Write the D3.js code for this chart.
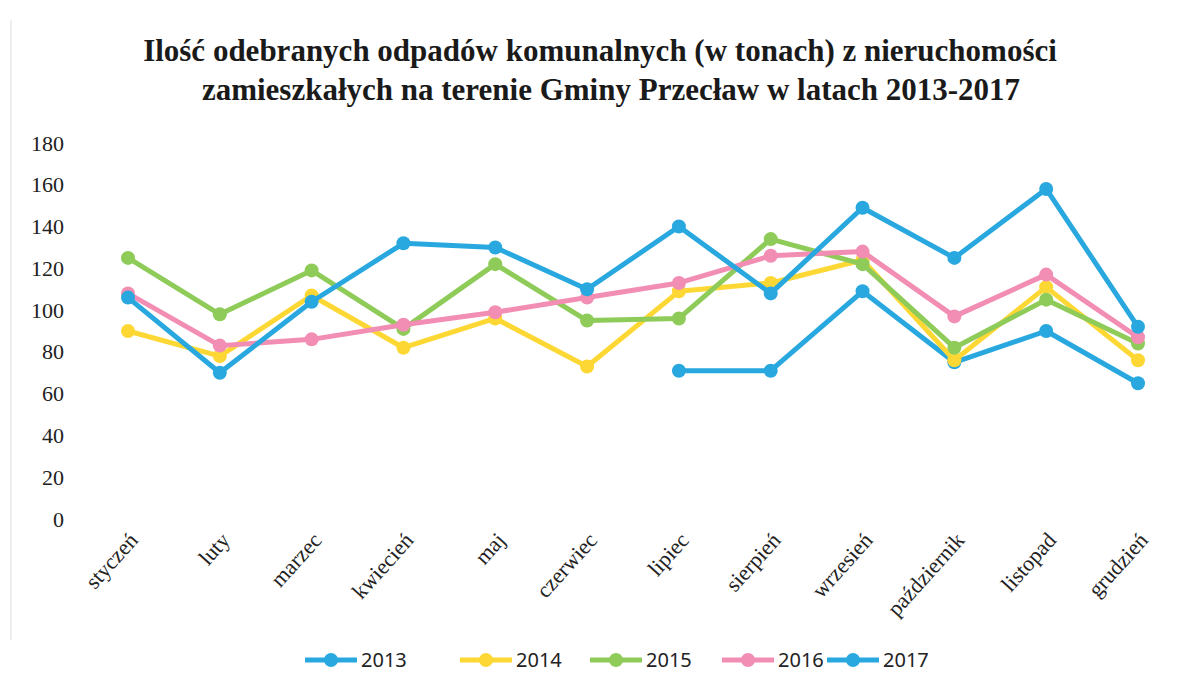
<!DOCTYPE html>
<html>
<head>
<meta charset="utf-8">
<script src="https://cdn.jsdelivr.net/npm/d3@7"></script>
<style>
  body { margin: 0; background: #fff; }
  svg { display: block; }
</style>
</head>
<body>
<svg id="chart" width="1199" height="675"></svg>
<script>
var months = ["styczeń", "luty", "marzec", "kwiecień", "maj", "czerwiec", "lipiec",
              "sierpień", "wrzesień", "październik", "listopad", "grudzień"];
var yTicks = [0, 20, 40, 60, 80, 100, 120, 140, 160, 180];

// null = brak danych
var v2013 = [null, null, null, null, null, null, 71, 71, 109, 75, 90, 65];
var v2014 = [90, 78, 107, 82, 96, 73, 109, 113, 124, 76, 111, 76];
var v2015 = [125, 98, 119, 91, 122, 95, 96, 134, 122, 82, 105, 84];
var v2016 = [108, 83, 86, 93, 99, 106, 113, 126, 128, 97, 117, 87];
var v2017 = [106, 70, 104, 132, 130, 110, 140, 108, 149, 125, 158, 92];

var seriesNames = ["2013", "2014", "2015", "2016", "2017"];
var seriesColors = ["#29a8df", "#fdd835", "#8ecb58", "#f28db4", "#29a8df"];
var seriesValues = [v2013, v2014, v2015, v2016, v2017];

var svg = d3.select("#chart");

var x = d3.scalePoint().domain(months).range([128, 1138]);
var y = d3.scaleLinear().domain([0, 180]).range([519, 143]);

// faint scan edge on the left
svg.append("line")
    .attr("x1", 11).attr("x2", 11).attr("y1", 20).attr("y2", 640)
    .attr("stroke", "#eeeeee").attr("stroke-width", 2);

// title
var title = svg.append("text")
    .attr("text-anchor", "middle")
    .attr("font-family", "Liberation Serif, serif")
    .attr("font-weight", "bold")
    .attr("font-size", 31)
    .attr("fill", "#1a1a1a");
title.append("tspan").attr("x", 600).attr("y", 61)
    .text("Ilość odebranych odpadów komunalnych (w tonach) z nieruchomości");
title.append("tspan").attr("x", 611).attr("y", 100)
    .text("zamieszkałych na terenie Gminy Przecław w latach 2013-2017");

// y axis
var yAxis = svg.append("g")
    .attr("transform", "translate(64,0)")
    .call(d3.axisLeft(y).tickValues(yTicks).tickSize(0).tickPadding(0));
yAxis.select(".domain").remove();
yAxis.selectAll("text")
    .attr("font-family", "Liberation Serif, serif")
    .attr("font-size", 22)
    .attr("fill", "#222");

// x axis
var xAxis = svg.append("g")
    .attr("transform", "translate(0,530)")
    .call(d3.axisBottom(x).tickSize(0).tickPadding(0));
xAxis.select(".domain").remove();
xAxis.selectAll("text")
    .attr("font-family", "Liberation Serif, serif")
    .attr("font-size", 22)
    .attr("fill", "#222")
    .attr("text-anchor", "end")
    .attr("dy", "0.35em")
    .attr("transform", "translate(5,6) rotate(-48)");

// lines
var line = d3.line()
    .defined(function (d) { return d != null; })
    .x(function (d, i) { return x(months[i]); })
    .y(function (d) { return y(d); });

seriesValues.forEach(function (vals, s) {
    var g = svg.append("g");
    g.append("path")
        .datum(vals)
        .attr("fill", "none")
        .attr("stroke", seriesColors[s])
        .attr("stroke-width", 5)
        .attr("stroke-linejoin", "round")
        .attr("d", line);
    g.selectAll("circle")
        .data(vals.map(function (v, i) { return { v: v, i: i }; })
            .filter(function (d) { return d.v != null; }))
        .enter().append("circle")
        .attr("cx", function (d) { return x(months[d.i]); })
        .attr("cy", function (d) { return y(d.v); })
        .attr("r", 7)
        .attr("fill", seriesColors[s]);
});

// legend
var legendX = [305, 460, 590, 722, 827];
var legend = svg.append("g").attr("transform", "translate(0,660)");
seriesNames.forEach(function (name, s) {
    var lg = legend.append("g").attr("transform", "translate(" + legendX[s] + ",0)");
    lg.append("line").attr("x1", 0).attr("x2", 52).attr("y1", 0).attr("y2", 0)
        .attr("stroke", seriesColors[s]).attr("stroke-width", 5);
    lg.append("circle").attr("cx", 26).attr("cy", 0).attr("r", 7).attr("fill", seriesColors[s]);
    lg.append("text").attr("x", 56).attr("y", 0).attr("dy", "0.35em")
        .attr("font-family", "Noto Sans, sans-serif")
        .attr("font-size", 20)
        .attr("fill", "#222")
        .text(name);
});
</script>
</body>
</html>
